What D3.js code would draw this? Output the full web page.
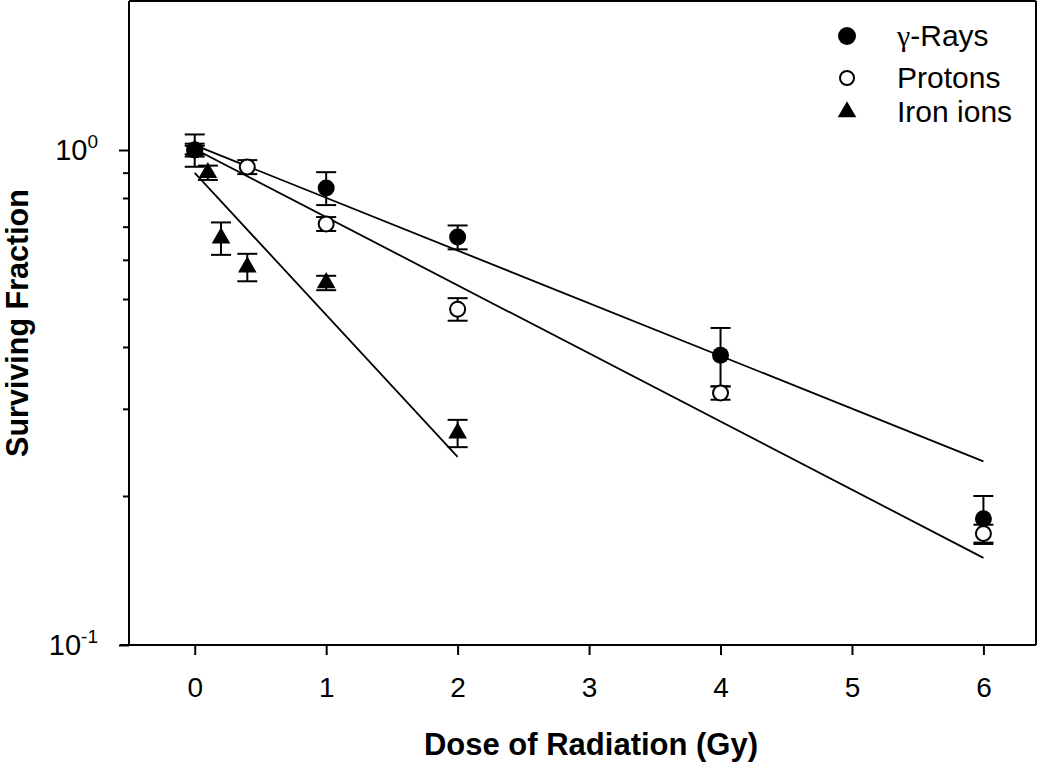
<!DOCTYPE html>
<html><head><meta charset="utf-8">
<script src="https://cdn.jsdelivr.net/npm/d3@7"></script>
<style>
html,body{margin:0;padding:0;background:#fff;}
svg{display:block;font-family:"Liberation Sans",Arial,Helvetica,sans-serif;}
</style></head>
<body>
<svg id="chart" width="1050" height="762"></svg>
<script>
// ---- data ----
const gammaDose = [0, 1, 2, 4, 6];
const gammaSF   = [1.0, 0.838, 0.667, 0.385, 0.180];
const gammaErr  = [0.075, 0.064, 0.037, 0.052, 0.020];

const protonDose = [0, 0.4, 1, 2, 4, 6];
const protonSF   = [1.0, 0.924, 0.709, 0.477, 0.323, 0.168];
const protonErr  = [0.02, 0.03, 0.023, 0.025, 0.010, 0.007];

const ironDose = [0, 0.1, 0.2, 0.4, 1, 2];
const ironSF   = [1.0, 0.90, 0.664, 0.580, 0.539, 0.268];
const ironErr  = [0.03, 0.03, 0.05, 0.037, 0.018, 0.017];

// fitted lines (end points)
const gammaFitDose = [0, 6],  gammaFitSF = [1.023, 0.235];
const protonFitDose = [0, 6], protonFitSF = [1.005, 0.150];
const ironFitDose = [0, 2],   ironFitSF = [0.899, 0.240];

const xTicks = [0, 1, 2, 3, 4, 5, 6];
const yMajor = [0.1, 1];
const yMinor = [0.2, 0.3, 0.4, 0.5, 0.6, 0.7, 0.8, 0.9];
const yMajorLabels = [["10", "-1"], ["10", "0"]];
const legendSymbols = ["\u03B3", "", ""];
const legendLabels = ["-Rays", "Protons", "Iron ions"];

// ---- layout ----
const L = 129, R = 1036, T = 1, B = 645;
const svg = d3.select("#chart");
const x = d3.scaleLinear().domain([-0.5, 6.4]).range([L, R]);
const y = d3.scaleLog().domain([0.1, 2]).range([B, T]);

const zip = (a, b, c) => a.map((d, i) => ({x: d, y: b[i], e: c ? c[i] : 0}));

// frame top & right
svg.append("line").attr("x1", L).attr("x2", R).attr("y1", T).attr("y2", T).attr("stroke", "#000").attr("stroke-width", 2);
svg.append("line").attr("x1", R).attr("x2", R).attr("y1", T).attr("y2", B).attr("stroke", "#000").attr("stroke-width", 2);

// x axis
const xAxis = d3.axisBottom(x).tickValues(xTicks).tickSize(10).tickSizeOuter(0).tickFormat(d3.format("d")).tickPadding(22);
const gx = svg.append("g").attr("transform", `translate(0,${B})`).call(xAxis);
gx.select(".domain").attr("d", `M${L - 9},0H${R}`).attr("stroke-width", 2);
gx.selectAll(".tick line").attr("stroke-width", 2);
gx.selectAll(".tick text").attr("font-size", 28).attr("font-family", "Liberation Sans, Arial, sans-serif").attr("fill", "#000");

// y axis: major ticks
const gy = svg.append("g").attr("transform", `translate(${L},0)`);
gy.call(d3.axisLeft(y).tickValues(yMajor).tickSize(10).tickSizeOuter(0).tickFormat(""));
gy.select(".domain").attr("d", `M0,${T}V${B}`).attr("stroke-width", 2);
gy.selectAll(".tick line").attr("stroke-width", 2);
// minor ticks
const gyMinor = svg.append("g").attr("transform", `translate(${L},0)`);
gyMinor.call(d3.axisLeft(y).tickValues(yMinor).tickSize(6).tickSizeOuter(0).tickFormat(""));
gyMinor.select(".domain").remove();
gyMinor.selectAll(".tick line").attr("stroke-width", 2);

// y tick labels with superscripts
yMajor.forEach((v, i) => {
  const t = svg.append("text").attr("x", 98).attr("y", y(v) + 10)
    .attr("text-anchor", "end").attr("font-size", 29).attr("fill", "#000");
  t.append("tspan").text(yMajorLabels[i][0]);
  t.append("tspan").attr("dy", -12).attr("font-size", 19).text(yMajorLabels[i][1]);
});

// axis titles
svg.append("text").attr("x", 591).attr("y", 755).attr("text-anchor", "middle")
  .attr("font-size", 31).attr("font-weight", "bold").text("Dose of Radiation (Gy)");
svg.append("text").attr("transform", `translate(28,${323}) rotate(-90)`).attr("text-anchor", "middle")
  .attr("font-size", 30.5).attr("font-weight", "bold").text("Surviving Fraction");

// fit lines
const line = d3.line().x(d => x(d.x)).y(d => y(d.y));
[[gammaFitDose, gammaFitSF], [protonFitDose, protonFitSF], [ironFitDose, ironFitSF]].forEach(([d, s]) => {
  svg.append("path").datum(zip(d, s)).attr("d", line).attr("fill", "none").attr("stroke", "#000").attr("stroke-width", 1.8);
});

// error bars
function errorBars(data) {
  const g = svg.append("g").attr("stroke", "#000").attr("stroke-width", 2);
  data.forEach(p => {
    const cx = x(p.x), y1 = y(p.y + p.e), y2 = y(p.y - p.e);
    g.append("line").attr("x1", cx).attr("x2", cx).attr("y1", y1).attr("y2", y2);
    g.append("line").attr("x1", cx - 10).attr("x2", cx + 10).attr("y1", y1).attr("y2", y1);
    g.append("line").attr("x1", cx - 10).attr("x2", cx + 10).attr("y1", y2).attr("y2", y2);
  });
}
const ironData = zip(ironDose, ironSF, ironErr);
const protonData = zip(protonDose, protonSF, protonErr);
const gammaData = zip(gammaDose, gammaSF, gammaErr);
errorBars(ironData);
errorBars(protonData);
errorBars(gammaData);

const triPath = d3.symbol().type(d3.symbolTriangle).size(150);
svg.append("g").selectAll("path").data(ironData).join("path")
  .attr("transform", d => `translate(${x(d.x)},${y(d.y)})`).attr("d", triPath()).attr("fill", "#000");
svg.append("g").selectAll("circle").data(protonData).join("circle")
  .attr("cx", d => x(d.x)).attr("cy", d => y(d.y)).attr("r", 7.5)
  .attr("fill", "#fff").attr("stroke", "#000").attr("stroke-width", 2);
svg.append("g").selectAll("circle").data(gammaData).join("circle")
  .attr("cx", d => x(d.x)).attr("cy", d => y(d.y)).attr("r", 8.5).attr("fill", "#000");

// legend
const legY = [46, 88, 122];
const lg = svg.append("g");
lg.append("circle").attr("cx", 847).attr("cy", legY[0] - 10).attr("r", 9).attr("fill", "#000");
lg.append("circle").attr("cx", 847).attr("cy", legY[1] - 10).attr("r", 7).attr("fill", "#fff").attr("stroke", "#000").attr("stroke-width", 2);
lg.append("path").attr("transform", `translate(847,${legY[2] - 10})`).attr("d", triPath()).attr("fill", "#000");
legendLabels.forEach((s, i) => {
  const t = lg.append("text").attr("x", 897).attr("y", legY[i]).attr("font-size", 30).attr("fill", "#000");
  if (legendSymbols[i]) t.append("tspan").attr("font-family", "Liberation Serif, serif").text(legendSymbols[i]);
  t.append("tspan").text(s);
});
</script>
</body></html>
